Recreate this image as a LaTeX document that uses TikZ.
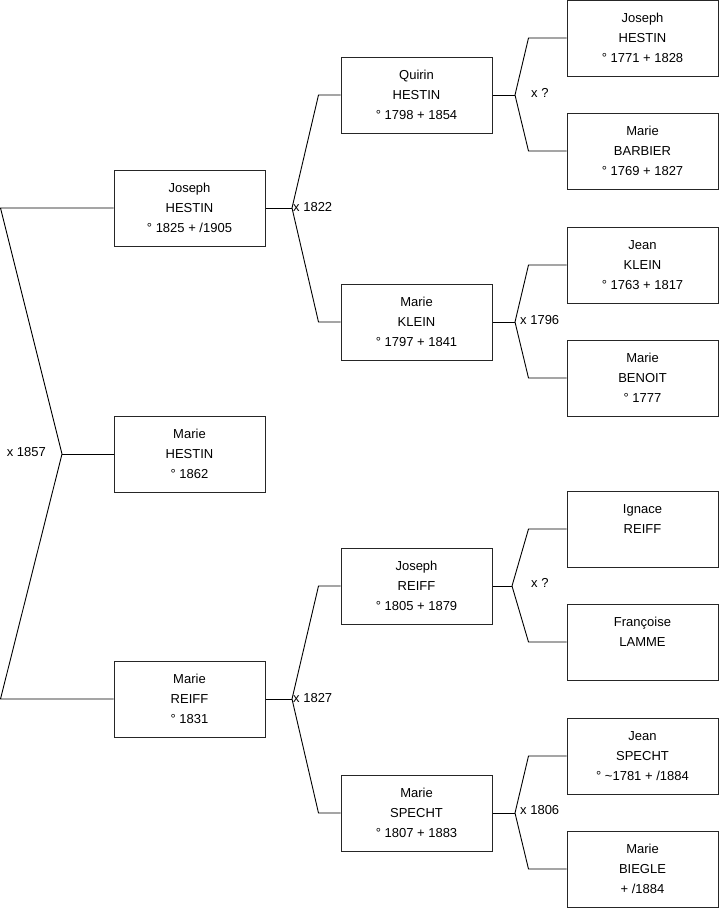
\documentclass[tikz,border=0pt]{standalone}
\usepackage{fontspec}
\setmainfont{Liberation Sans}
\begin{document}
\begin{tikzpicture}[x=1pt,y=-1pt,
  person/.style={draw=black!85, line width=1pt, minimum width=151pt, minimum height=76pt,
    inner sep=0pt, align=center, font=\fontsize{13}{20}\selectfont, fill=white},
  link/.style={draw=black, line width=0.9pt},
  mlabel/.style={font=\fontsize{13}{15}\selectfont, inner sep=0pt}]
\useasboundingbox (0,0) rectangle (719,908);
% column 1
\node[person] (jh) at (189.5,208) {Joseph\\HESTIN\\° 1825 + /1905};
\node[person] (mh) at (189.5,454) {Marie\\HESTIN\\° 1862};
\node[person] (mr) at (189.5,699) {Marie\\REIFF\\° 1831};
% column 2
\node[person] (qh) at (416.5,95) {Quirin\\HESTIN\\° 1798 + 1854};
\node[person] (mk) at (416.5,322) {Marie\\KLEIN\\° 1797 + 1841};
\node[person] (jr) at (416.5,586) {Joseph\\REIFF\\° 1805 + 1879};
\node[person] (ms) at (416.5,813) {Marie\\SPECHT\\° 1807 + 1883};
% column 3
\node[person] (jh2) at (642.5,38) {Joseph\\HESTIN\\° 1771 + 1828};
\node[person] (mb) at (642.5,151) {Marie\\BARBIER\\° 1769 + 1827};
\node[person] (jk) at (642.5,265) {Jean\\KLEIN\\° 1763 + 1817};
\node[person] (mbe) at (642.5,378) {Marie\\BENOIT\\° 1777};
\node[person] (ir) at (642.5,529) {Ignace\\REIFF\\~};
\node[person] (fl) at (642.5,642) {Françoise\\LAMME\\~};
\node[person] (js) at (642.5,756) {Jean\\SPECHT\\° \textasciitilde 1781 + /1884};
\node[person] (mbi) at (642.5,869) {Marie\\BIEGLE\\+ /1884};
% root fork
\coordinate (r1) at (0.5,208);
\coordinate (r2) at (0.5,699);
\coordinate (v0) at (62,454);
\draw[link] (jh.west) -- (r1) -- (v0) -- (r2) -- (mr.west);
\draw[link] (v0) -- (mh.west);
\node[mlabel, anchor=east] (l0) at (46,452) {x 1857};
% level 2 forks
\coordinate (v1) at (292,208);
\draw[link] (jh.east) -- (v1);
\draw[link] (qh.west) -- ++(-22,0) -- (v1) -- ([xshift=-22pt]mk.west) -- (mk.west);
\node[mlabel, anchor=west] (l1) at (293,207) {x 1822};
\coordinate (v2) at (292,699);
\draw[link] (mr.east) -- (v2);
\draw[link] (jr.west) -- ++(-22,0) -- (v2) -- ([xshift=-22pt]ms.west) -- (ms.west);
\node[mlabel, anchor=west] (l2) at (293,698) {x 1827};
% level 3 forks
\coordinate (v3) at (515,95);
\draw[link] (qh.east) -- (v3);
\draw[link] (jh2.west) -- ++(-38,0) -- (v3) -- ([xshift=-38pt]mb.west) -- (mb.west);
\node[mlabel, anchor=west] (l3) at (531,93) {x ?};
\coordinate (v4) at (515,322);
\draw[link] (mk.east) -- (v4);
\draw[link] (jk.west) -- ++(-38,0) -- (v4) -- ([xshift=-38pt]mbe.west) -- (mbe.west);
\node[mlabel, anchor=west] (l4) at (520,320) {x 1796};
\coordinate (v5) at (512,586);
\draw[link] (jr.east) -- (v5);
\draw[link] (ir.west) -- ++(-38,0) -- (v5) -- ([xshift=-38pt]fl.west) -- (fl.west);
\node[mlabel, anchor=west] (l5) at (531,583) {x ?};
\coordinate (v6) at (515,813);
\draw[link] (ms.east) -- (v6);
\draw[link] (js.west) -- ++(-38,0) -- (v6) -- ([xshift=-38pt]mbi.west) -- (mbi.west);
\node[mlabel, anchor=west] (l6) at (520,810) {x 1806};
\end{tikzpicture}
\end{document}
